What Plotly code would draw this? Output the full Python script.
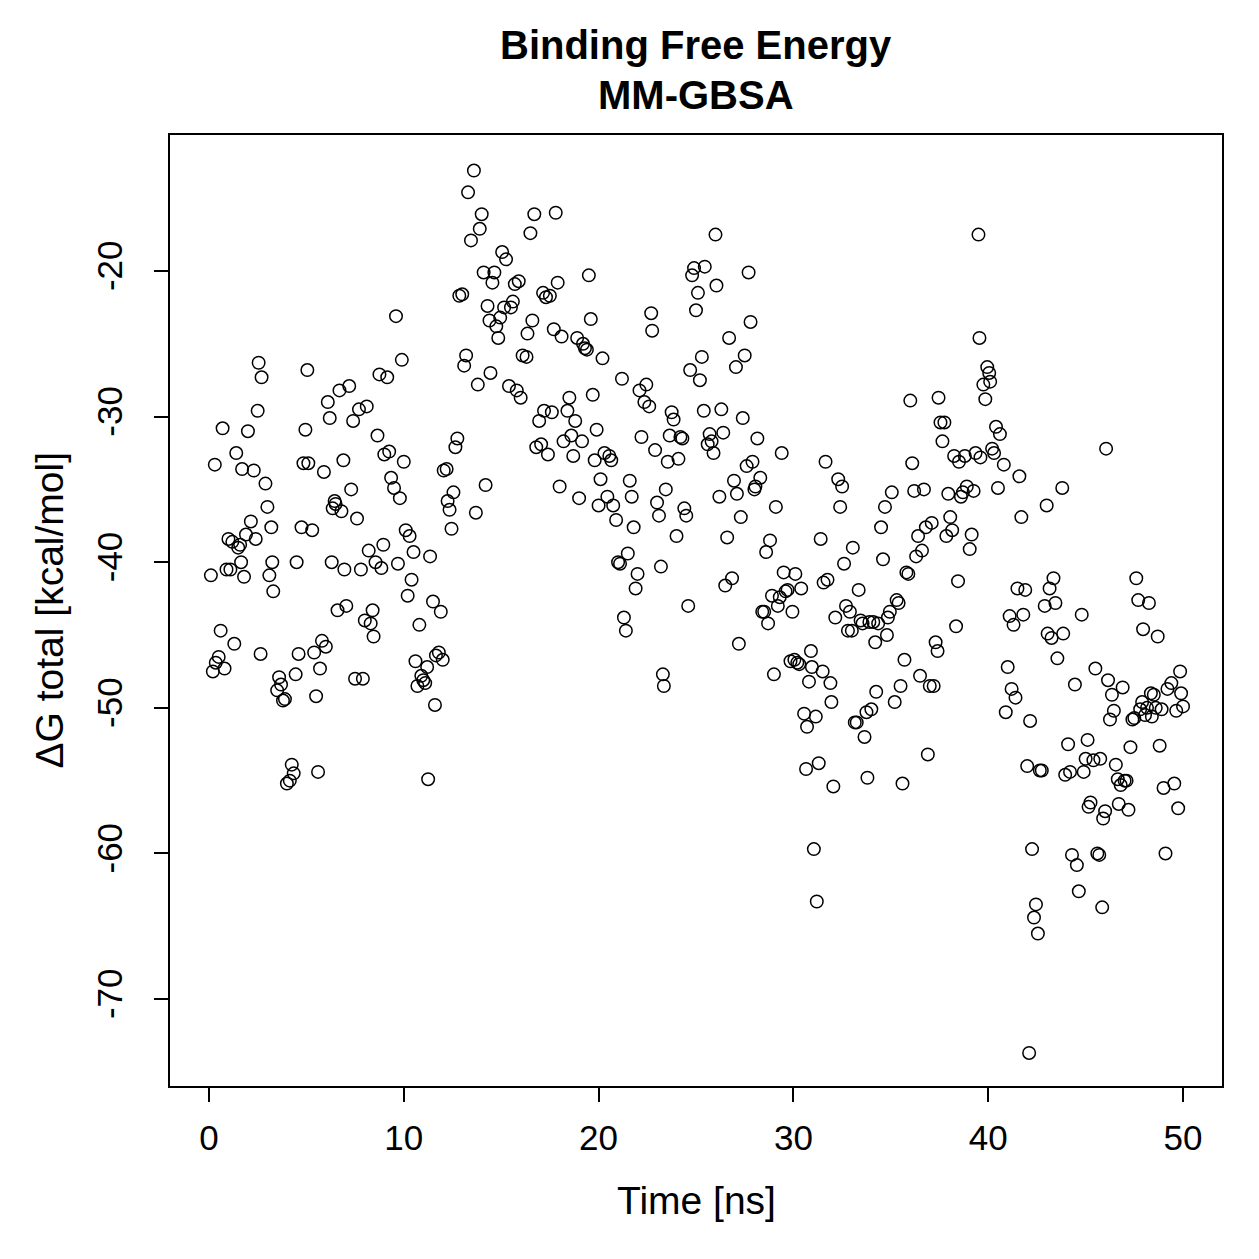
import plotly.graph_objects as go

# Time [ns] and total binding free energy [kcal/mol]
time_ns = [
    0.1, 0.2, 0.3, 0.35, 0.5, 0.6, 0.7, 0.8, 0.9, 1.0, 1.1, 1.2, 1.3, 1.4, 1.5, 1.6, 1.65, 1.7, 1.8, 1.9,
    2.0, 2.15, 2.3, 2.4, 2.5, 2.55, 2.7, 2.65, 2.9, 3.0, 3.1, 3.2, 3.25, 3.3, 3.5, 3.6, 3.7, 3.8, 3.9,
    4.0, 4.15, 4.25, 4.35, 4.45, 4.6, 4.5, 4.75, 4.85, 4.95, 5.05, 5.1, 5.3, 5.4, 5.5, 5.6, 5.7, 5.8, 5.9,
    6.0, 6.1, 6.2, 6.3, 6.35, 6.45, 6.5, 6.6, 6.7, 6.8, 6.9, 6.95, 7.05, 7.2, 7.3, 7.4, 7.5, 7.6, 7.7, 7.8, 7.9,
    8.0, 8.1, 8.2, 8.3, 8.4, 8.45, 8.55, 8.65, 8.75, 8.85, 8.95, 9.0, 9.15, 9.25, 9.35, 9.5, 9.6, 9.7, 9.8, 9.9,
    10.0, 10.1, 10.2, 10.3, 10.4, 10.5, 10.6, 10.7, 10.8, 10.9, 11.0, 11.1, 11.2, 11.25, 11.35, 11.5, 11.6, 11.65, 11.8, 11.9,
    12.0, 12.05, 12.2, 12.25, 12.35, 12.45, 12.55, 12.65, 12.75, 12.85, 13.0, 13.1, 13.2, 13.3, 13.45, 13.6, 13.7, 13.8, 13.9,
    14.0, 14.1, 14.2, 14.3, 14.4, 14.45, 14.55, 14.65, 14.75, 14.85, 14.95, 15.05, 15.15, 15.25, 15.4, 15.5, 15.6, 15.7, 15.8, 15.9,
    16.0, 16.1, 16.3, 16.35, 16.5, 16.6, 16.7, 16.8, 16.95, 17.05, 17.15, 17.2, 17.3, 17.4, 17.5, 17.6, 17.7, 17.8, 17.9,
    18.0, 18.1, 18.2, 18.4, 18.5, 18.6, 18.7, 18.8, 18.9, 19.0, 19.15, 19.2, 19.3, 19.4, 19.5, 19.6, 19.7, 19.8, 19.9,
    20.0, 20.1, 20.2, 20.3, 20.45, 20.55, 20.65, 20.75, 20.9, 21.0, 21.1, 21.2, 21.3, 21.4, 21.5, 21.6, 21.7, 21.8, 21.9,
    22.0, 22.1, 22.2, 22.35, 22.45, 22.6, 22.7, 22.75, 22.9, 23.0, 23.1, 23.2, 23.3, 23.35, 23.45, 23.55, 23.65, 23.75, 23.85,
    24.0, 24.1, 24.2, 24.3, 24.4, 24.5, 24.6, 24.7, 24.8, 24.9, 25.0, 25.1, 25.2, 25.3, 25.4, 25.45, 25.6, 25.7, 25.8, 25.9,
    26.0, 26.05, 26.2, 26.3, 26.4, 26.5, 26.6, 26.7, 26.85, 26.95, 27.05, 27.1, 27.2, 27.3, 27.4, 27.5, 27.6, 27.7, 27.8, 27.9,
    28.0, 28.05, 28.15, 28.3, 28.4, 28.5, 28.6, 28.7, 28.8, 28.9, 29.0, 29.1, 29.2, 29.3, 29.4, 29.5, 29.6, 29.7, 29.85, 29.95,
    30.05, 30.1, 30.2, 30.3, 30.4, 30.55, 30.65, 30.7, 30.8, 30.9, 30.95, 31.05, 31.15, 31.2, 31.3, 31.4, 31.5, 31.55, 31.65, 31.75, 31.9, 31.95,
    32.05, 32.15, 32.3, 32.4, 32.5, 32.6, 32.7, 32.8, 32.9, 33.0, 33.05, 33.15, 33.25, 33.35, 33.45, 33.55, 33.65, 33.75, 33.8, 33.9,
    34.0, 34.1, 34.2, 34.25, 34.35, 34.5, 34.6, 34.7, 34.8, 34.85, 34.95, 35.05, 35.2, 35.3, 35.4, 35.5, 35.6, 35.7, 35.8, 35.9,
    36.0, 36.1, 36.2, 36.3, 36.4, 36.5, 36.6, 36.7, 36.8, 36.9, 37.0, 37.1, 37.2, 37.3, 37.4, 37.45, 37.55, 37.65, 37.75, 37.85, 37.95,
    38.05, 38.15, 38.25, 38.35, 38.45, 38.5, 38.6, 38.7, 38.8, 38.9, 39.05, 39.15, 39.25, 39.35, 39.5, 39.55, 39.6, 39.75, 39.85, 39.95,
    40.05, 40.1, 40.2, 40.3, 40.4, 40.5, 40.6, 40.8, 40.9, 41.0, 41.1, 41.2, 41.3, 41.4, 41.5, 41.6, 41.7, 41.8, 41.9,
    42.0, 42.1, 42.15, 42.25, 42.35, 42.45, 42.55, 42.65, 42.75, 42.9, 43.0, 43.05, 43.15, 43.25, 43.35, 43.45, 43.55, 43.8, 43.85, 43.95,
    44.1, 44.2, 44.3, 44.45, 44.55, 44.65, 44.8, 44.9, 45.0, 45.1, 45.15, 45.25, 45.4, 45.5, 45.6, 45.7, 45.75, 45.85, 45.9,
    46.0, 46.05, 46.15, 46.25, 46.35, 46.45, 46.55, 46.65, 46.7, 46.8, 46.9, 47.0, 47.1, 47.2, 47.3, 47.4, 47.5, 47.6, 47.7, 47.8, 47.9, 47.95,
    48.05, 48.15, 48.25, 48.35, 48.4, 48.5, 48.6, 48.7, 48.8, 48.9, 49.0, 49.1, 49.2, 49.4, 49.55, 49.65, 49.75, 49.85, 49.9, 50.0,
]

dg_total = [
    -40.9, -47.5, -33.3, -46.9, -46.5, -44.7, -30.8, -47.3, -40.5, -38.4, -40.5, -38.6, -45.6, -32.5, -39.0, -38.8, -40.0, -33.6, -41.0, -38.1,
    -31.0, -37.2, -33.7, -38.4, -29.6, -26.3, -27.3, -46.3, -34.6, -36.2, -40.9, -37.6, -40.0, -42.0, -48.8, -47.9, -48.4, -49.5, -49.4,
    -55.2, -55.0, -53.9, -54.5, -47.7, -46.3, -40.0, -37.6, -33.2, -30.9, -26.8, -33.2, -37.8, -46.2, -49.2, -54.4, -47.3, -45.4, -33.8,
    -45.8, -29.0, -30.1, -40.0, -36.3, -35.8, -36.0, -43.3, -28.2, -36.5, -33.0, -40.5, -43.0, -27.9, -35.0, -30.3, -48.0, -37.0, -29.5, -40.5, -48.0,
    -44.0, -29.3, -39.2, -44.2, -43.3, -45.1, -40.0, -31.3, -27.1, -40.4, -38.8, -32.6, -27.3, -32.4, -34.2, -34.9, -23.1, -40.1, -35.6, -26.1,
    -33.1, -37.8, -42.3, -38.2, -41.2, -39.3, -46.8, -48.5, -44.3, -47.8, -48.1, -48.3, -47.2, -54.9, -39.6, -42.7, -49.8, -46.4, -46.2, -43.4,
    -46.7, -33.7, -33.6, -35.8, -36.4, -37.7, -35.2, -32.1, -31.5, -21.7, -21.6, -26.5, -25.8, -14.6, -17.9, -13.1, -36.6, -27.8, -17.1,
    -16.1, -20.1, -34.7, -22.4, -23.4, -27.0, -20.8, -20.1, -23.8, -24.6, -23.2, -18.7, -22.5, -19.2, -27.9, -22.5, -22.1, -20.9, -28.2, -20.7,
    -28.7, -25.8, -25.9, -24.3, -17.4, -23.4, -16.1, -32.1, -30.3, -31.9, -21.5, -29.6, -21.8, -32.6, -21.7, -29.7, -24.0, -16.0, -20.8,
    -34.8, -24.5, -31.7, -29.6, -28.7, -31.3, -32.7, -30.3, -24.6, -35.6, -31.7, -25.0, -25.3, -25.4, -20.3, -23.3, -28.5, -33.0, -30.9,
    -36.1, -34.3, -26.0, -32.5, -35.5, -32.7, -33.0, -36.1, -37.1, -40.0, -40.1, -27.4, -43.8, -44.7, -39.4, -34.4, -35.5, -37.6, -41.8,
    -40.8, -28.2, -31.4, -29.0, -27.8, -29.3, -22.9, -24.1, -32.3, -35.9, -36.8, -40.3, -47.7, -48.5, -35.0, -33.1, -31.3, -29.7, -30.2,
    -38.2, -32.9, -31.4, -31.5, -36.3, -36.8, -43.0, -26.8, -20.3, -19.8, -22.7, -21.5, -27.5, -25.9, -29.6, -19.7, -31.9, -31.2, -31.7, -32.5,
    -17.5, -21.0, -35.5, -29.5, -31.1, -41.6, -38.3, -24.6, -41.1, -34.4, -26.6, -35.3, -45.6, -36.9, -30.1, -25.8, -33.4, -20.1, -23.5, -33.1,
    -35.0, -34.8, -31.5, -34.2, -43.4, -43.4, -39.3, -44.2, -38.5, -42.3, -47.7, -36.2, -43.0, -42.4, -32.5, -40.7, -42.0, -41.9, -46.8, -43.4,
    -46.7, -40.8, -46.9, -47.0, -41.8, -50.4, -54.2, -51.3, -48.2, -46.1, -47.2, -59.7, -50.6, -63.3, -53.8, -38.4, -47.5, -41.4, -33.1, -41.2, -48.3, -49.6,
    -55.4, -43.8, -34.3, -36.2, -34.8, -40.1, -43.0, -44.7, -43.4, -44.7, -39.0, -51.0, -51.0, -41.9, -44.0, -44.2, -52.0, -50.3, -54.8, -44.1,
    -50.1, -44.1, -45.5, -48.9, -44.2, -37.6, -39.8, -36.2, -45.0, -43.8, -43.4, -35.2, -49.6, -42.6, -42.8, -48.5, -55.2, -46.7, -40.7, -40.8,
    -28.9, -33.2, -35.1, -39.6, -38.2, -47.8, -39.2, -35.0, -37.6, -53.2, -48.5, -37.3, -48.5, -45.5, -46.1, -28.7, -30.4, -31.7, -30.4, -38.2, -35.3,
    -36.9, -37.8, -32.7, -44.4, -41.3, -33.1, -35.5, -35.2, -32.7, -34.8, -39.1, -38.1, -35.1, -32.5, -17.5, -24.6, -32.8, -27.8, -28.8, -26.6,
    -27.0, -27.6, -32.2, -32.5, -30.7, -34.9, -31.2, -33.3, -50.3, -47.2, -43.7, -48.7, -44.3, -49.3, -41.8, -34.1, -36.9, -43.6, -41.9,
    -54.0, -73.7, -50.9, -59.7, -64.4, -63.5, -65.5, -54.3, -54.3, -43.0, -36.1, -44.9, -41.8, -45.2, -41.1, -42.8, -46.6, -34.9, -44.9, -54.6,
    -52.5, -54.4, -60.1, -48.4, -60.8, -62.6, -43.6, -54.4, -53.5, -52.2, -56.8, -56.5, -53.6, -47.3, -60.0, -60.1, -53.5, -63.7, -57.6,
    -57.1, -32.2, -48.1, -50.8, -49.1, -50.2, -53.9, -54.9, -56.6, -55.3, -48.6, -55.0, -55.0, -57.0, -52.7, -50.8, -50.7, -41.1, -42.6, -50.1, -49.6, -44.6,
    -50.5, -50.0, -42.8, -49.0, -50.6, -49.1, -50.0, -45.1, -52.6, -50.1, -55.5, -60.0, -48.7, -48.3, -55.2, -50.2, -56.9, -47.5, -49.0, -49.9,
]

x_ticks = [0, 10, 20, 30, 40, 50]
y_ticks = [-20, -30, -40, -50, -60, -70]
y_tick_labels = ["-20", "-30", "-40", "-50", "-60", "-70"]

FONT = "Liberation Sans, Arial, Helvetica, sans-serif"

fig = go.Figure()
fig.add_trace(go.Scatter(
    x=time_ns, y=dg_total, mode="markers",
    marker=dict(symbol="circle-open", size=12.5, color="black", line=dict(width=1.5, color="black")),
    showlegend=False, hoverinfo="x+y",
))

axis_common = dict(
    showgrid=False, zeroline=False, showline=True, mirror=True,
    linecolor="black", linewidth=2, ticks="outside", ticklen=14, tickwidth=2,
    tickcolor="black", tickfont=dict(family=FONT, size=35, color="black"),
)

fig.update_layout(
    width=1259, height=1259,
    margin=dict(l=170, r=37, t=135, b=173),
    paper_bgcolor="white", plot_bgcolor="white",
    font=dict(family=FONT, color="black"),
    xaxis=dict(range=[-2, 52], tickvals=x_ticks, ticktext=[str(v) for v in x_ticks],
               ticklabelstandoff=6, **axis_common),
    yaxis=dict(range=[-75.97, -10.66], tickvals=y_ticks, ticktext=y_tick_labels, tickangle=-90,
               ticklabelstandoff=18, **axis_common),
    annotations=[
        dict(text="<b>Binding Free Energy</b>", x=0.5, y=1.0946, xref="paper", yref="paper",
             showarrow=False, xanchor="center", yanchor="middle", font=dict(family=FONT, size=40)),
        dict(text="<b>MM-GBSA</b>", x=0.5, y=1.042, xref="paper", yref="paper",
             showarrow=False, xanchor="center", yanchor="middle", font=dict(family=FONT, size=40)),
        dict(text="Time [ns]", x=0.5, y=-0.1199, xref="paper", yref="paper",
             showarrow=False, xanchor="center", yanchor="middle", font=dict(family=FONT, size=39)),
        dict(text="ΔG total [kcal/mol]", x=-0.1141, y=0.5, xref="paper", yref="paper", textangle=-90,
             showarrow=False, xanchor="center", yanchor="middle", font=dict(family=FONT, size=39)),
    ],
)

fig.write_html("out.html")
